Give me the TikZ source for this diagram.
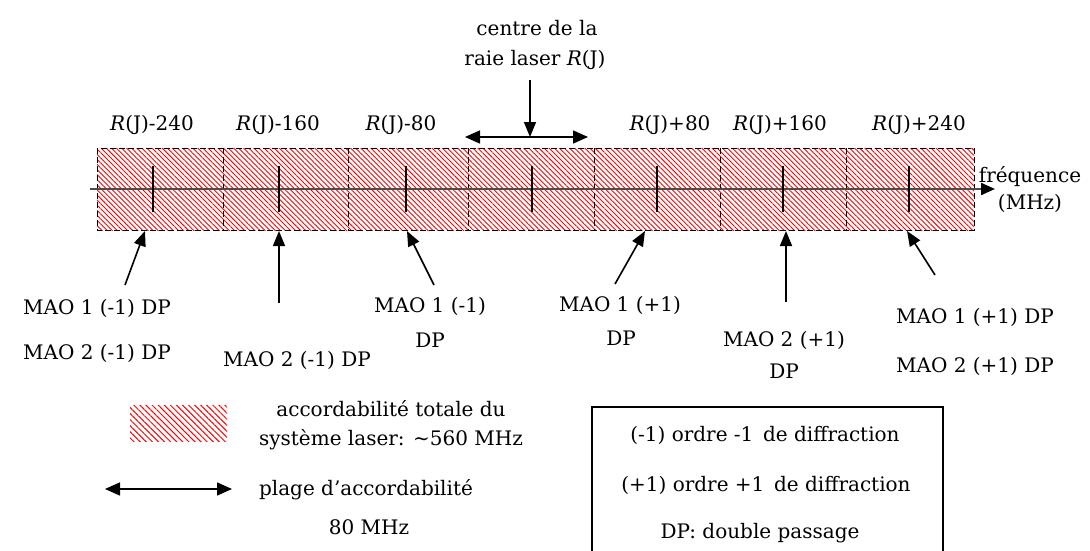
\documentclass[tikz,border=0pt]{standalone}
\usepackage{fontspec}
\setmainfont{DejaVu Serif}
\usetikzlibrary{arrows.meta,patterns.meta}
\begin{document}
\begin{tikzpicture}[x=1pt,y=-1pt,
  every node/.style={font=\fontsize{20}{24}\selectfont, inner sep=0pt, anchor=center},
  arr/.style={line width=1.6pt, -{Triangle[length=15pt,width=12pt]}},
  darr/.style={line width=1.6pt, {Triangle[length=15pt,width=13pt]}-{Triangle[length=15pt,width=13pt]}},
  hatch/.style={pattern={Lines[angle=-45,distance=3.6pt,line width=0.9pt]}, pattern color=red},
  hatchleg/.style={pattern={Lines[angle=-45,distance=4.3pt,line width=1pt]}, pattern color=red},
  segline/.style={line width=1pt, dash pattern=on 6pt off 3pt},
  tick/.style={line width=1.2pt},
  axis/.style={line width=2.2pt, black!70, -{Triangle[length=14pt,width=12pt,color=black]}},
  legbox/.style={draw, line width=1.5pt}]
\useasboundingbox (0,0) rectangle (1090,551);

% hatched band
\fill[hatch] (97,148) rectangle (974,230);
\draw[segline] (97,148) rectangle (974,230);
\foreach \x in {223,348,468,594,720,846}{
  \draw[segline] (\x,148) -- (\x,230);
}

% axis
\coordinate (ax0) at (90,189);
\coordinate (ax1) at (995,189);
\draw[axis] (ax0) -- (ax1);
\foreach \x [count=\i] in {153,279,406,532,657,783,909}{
  \coordinate (tt\i) at (\x,166);
  \coordinate (tb\i) at (\x,212);
  \draw[tick] (tt\i) -- (tb\i);
}

% axis label
\node (freq1) at (1030,177) {fréquence};
\node (freq2) at (1030,203) {(MHz)};

% top labels
\node (l1) at (152,125) {\textit{R}(J)-240};
\node (l2) at (278,125) {\textit{R}(J)-160};
\node (l3) at (401,125) {\textit{R}(J)-80};
\node (l5) at (670,125) {\textit{R}(J)+80};
\node (l6) at (780,125) {\textit{R}(J)+160};
\node (l7) at (919,125) {\textit{R}(J)+240};

% centre
\node (c1) at (537,28) {centre de la};
\node (c2) at (535,60) {raie laser \textit{R}(J)};
\coordinate (cs) at (530,80);
\coordinate (ce) at (530,137);
\draw[arr] (cs) -- (ce);
\coordinate (dl) at (465,137);
\coordinate (dr) at (588,137);
\draw[darr] (dl) -- (dr);

% bottom arrows
\coordinate (a1s) at (125,285); \coordinate (a1e) at (145,231);
\coordinate (a2s) at (279,303); \coordinate (a2e) at (279,231);
\coordinate (a3s) at (434,285); \coordinate (a3e) at (407,231);
\coordinate (a4s) at (615,284); \coordinate (a4e) at (645,231);
\coordinate (a5s) at (786,302); \coordinate (a5e) at (786,231);
\coordinate (a6s) at (935,275); \coordinate (a6e) at (907,231);
\foreach \i in {1,...,6}{ \draw[arr] (a\i s) -- (a\i e); }

% bottom labels
\node (m1a) at (97,308) {MAO 1 (-1) DP};
\node (m1b) at (97,353) {MAO 2 (-1) DP};
\node (m2) at (297,360) {MAO 2 (-1) DP};
\node (m3a) at (430,306) {MAO 1 (-1)};
\node (m3b) at (430,340) {DP};
\node (m4a) at (620,305) {MAO 1 (+1)};
\node (m4b) at (621,338) {DP};
\node (m5a) at (784,340) {MAO 2 (+1)};
\node (m5b) at (784,371) {DP};
\node (m6a) at (975,317) {MAO 1 (+1) DP};
\node (m6b) at (975,366) {MAO 2 (+1) DP};

% legend
\fill[hatchleg] (130,405) rectangle (227,441);
\node (g1) at (391,409) {accordabilité totale du};
\node (g2) at (391,440) {système laser: \textasciitilde560 MHz};
\coordinate (gl) at (105,489);
\coordinate (gr) at (232,489);
\draw[darr] (gl) -- (gr);
\node (g3) at (366,490) {plage d’accordabilité};
\node (g4) at (369,527) {80 MHz};

\draw[legbox] (592,407) rectangle (943,556);
\node (b1) at (765,435) {(-1) ordre -1\, de diffraction};
\node (b2) at (766,485) {(+1) ordre +1\, de diffraction};
\node (b3) at (760,533) {DP: double passage};
\end{tikzpicture}
\end{document}
